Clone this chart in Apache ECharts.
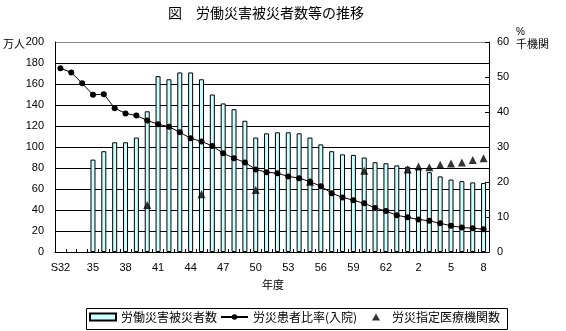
<!DOCTYPE html>
<html>
<head>
<meta charset="utf-8">
<script src="https://cdn.jsdelivr.net/npm/echarts@6/dist/echarts.min.js"></script>
<style>
  html, body { margin: 0; padding: 0; background: #fff; }
  #chart { width: 566px; height: 331px; }
</style>
</head>
<body>
<div id="chart"></div>
<script>
// 年度 (昭和32年度〜平成8年度)
const years = ['S32','33','34','35','36','37','38','39','40','41','42','43','44','45','46','47','48','49','50','51',
  '52','53','54','55','56','57','58','59','60','61','62','63','1','2','3','4','5','6','7','8'];

// 労働災害被災者数 (万人)
const victims = [null, null, null,
  88, 96, 104.5, 104.5, 109, 134, 167.5, 164.5, 171, 171, 164.5, 150, 141.5, 136, 125, 109,
  113, 114, 114, 113, 109, 102.5, 96, 93, 92.5, 90, 85.5, 84.5, 82.5, 81.3, 79.4, 76, 72, 69, 67.5, 66.3, 65.7];

// 労災患者比率(入院) (%)
const inpatientRatio = [52.5, 51.3, 48.2, 44.9, 45.1, 41.1, 39.6, 39, 37.6, 36.5, 35.8, 34.2, 32.5, 31.6, 30.3,
  28.2, 26.8, 25.6, 23.6, 22.8, 22.5, 21.6, 21.1, 20.1, 18.8, 16.8, 15.6, 14.8, 13.9, 12.6, 11.7, 10.5, 9.9,
  9.3, 8.9, 8.2, 7.5, 7.0, 6.8, 6.5];

// 労災指定医療機関数 (千機関)
const institutions = [null, null, null, null, null, null, null, null, 13.4, null, null, null, null, 16.5, null,
  null, null, null, 17.7, null, null, null, null, 20.1, null, null, null, null, 23.2, null, null, null, 23.6,
  24.4, 24.2, 24.9, 25.3, 25.6, 26.3, 26.8];

const leftTicks = { min: 0, max: 200, interval: 20 };
const rightTicks = { min: 0, max: 60, interval: 10 };

const NUM_FONT = '"Liberation Sans", Arial, sans-serif';
const JP_FONT = '"Noto Sans CJK JP", sans-serif';

const chart = echarts.init(document.getElementById('chart'), null, { renderer: 'canvas' });

const gridColors = [];
for (let v = leftTicks.min; v <= leftTicks.max; v += leftTicks.interval) {
  gridColors.push(v === leftTicks.max ? '#888888' : '#000000');
}

chart.setOption({
  animation: false,
  backgroundColor: '#ffffff',
  grid: { left: 55, right: 77, top: 42, bottom: 79, containLabel: false },
  xAxis: {
    type: 'category',
    data: years,
    boundaryGap: true,
    axisLine: { show: true, lineStyle: { color: '#000', width: 1 } },
    axisTick: { show: true, inside: true, length: 3, interval: 0, lineStyle: { color: '#000' } },
    axisLabel: { interval: 2, margin: 10, color: '#000', fontSize: 11, fontFamily: NUM_FONT },
    splitLine: { show: false }
  },
  yAxis: [
    {
      type: 'value',
      min: leftTicks.min, max: leftTicks.max, interval: leftTicks.interval,
      axisLine: { show: true, lineStyle: { color: '#000', width: 1 } },
      axisTick: { show: false },
      axisLabel: { margin: 11, color: '#000', fontSize: 11, fontFamily: NUM_FONT },
      splitLine: { show: true, lineStyle: { color: gridColors, width: 1 } }
    },
    {
      type: 'value',
      position: 'right',
      min: rightTicks.min, max: rightTicks.max, interval: rightTicks.interval,
      axisLine: { show: true, lineStyle: { color: '#000', width: 1 } },
      axisTick: { show: true, inside: true, length: 4, lineStyle: { color: '#000' } },
      axisLabel: { margin: 8, color: '#000', fontSize: 11, fontFamily: NUM_FONT },
      splitLine: { show: false }
    }
  ],
  legend: [
    {
      data: [{ name: '労働災害被災者数', icon: 'rect' }],
      left: 89, top: 311, orient: 'horizontal', padding: 0,
      itemWidth: 26, itemHeight: 7,
      textStyle: { color: '#000', fontSize: 12, fontFamily: JP_FONT }
    },
    {
      data: ['労災患者比率(入院)'],
      left: 220, top: 311, padding: 0,
      itemWidth: 27, itemHeight: 7,
      textStyle: { color: '#000', fontSize: 12, fontFamily: JP_FONT }
    },
    {
      data: [{ name: '労災指定医療機関数', icon: 'triangle' }],
      left: 372, top: 311, padding: 0,
      itemWidth: 8, itemHeight: 7,
      textStyle: { color: '#000', fontSize: 12, fontFamily: JP_FONT, padding: [0, 0, 0, 7] }
    }
  ],
  series: [
    {
      name: '労働災害被災者数',
      type: 'bar',
      yAxisIndex: 0,
      data: victims,
      barWidth: 5,
      itemStyle: { color: '#CCFFFF', borderColor: '#000', borderWidth: 1 }
    },
    {
      name: '労災患者比率(入院)',
      type: 'line',
      yAxisIndex: 1,
      data: inpatientRatio,
      symbol: 'circle',
      symbolSize: 6,
      showAllSymbol: true,
      lineStyle: { color: '#000', width: 1 },
      itemStyle: { color: '#000' },
      z: 3
    },
    {
      name: '労災指定医療機関数',
      type: 'scatter',
      yAxisIndex: 1,
      data: institutions,
      symbol: 'triangle',
      symbolSize: 8,
      itemStyle: { color: '#000' },
      z: 4
    }
  ],
  graphic: [
    {
      type: 'text', left: 168, top: 6,
      style: { text: '図　労働災害被災者数等の推移', fill: '#000', font: '14px ' + JP_FONT }
    },
    {
      type: 'text', left: 3, top: 38,
      style: { text: '万人', fill: '#000', font: '11px ' + JP_FONT }
    },
    {
      type: 'text', left: 516, top: 27,
      style: { text: '%', fill: '#000', font: '10px ' + NUM_FONT }
    },
    {
      type: 'text', left: 516, top: 38,
      style: { text: '千機関', fill: '#000', font: '11px ' + JP_FONT }
    },
    {
      type: 'text', left: 262, top: 279,
      style: { text: '年度', fill: '#000', font: '11px ' + JP_FONT }
    },
    {
      type: 'rect', left: 84, top: 306,
      shape: { width: 421, height: 21 },
      style: { fill: 'none', stroke: '#000', lineWidth: 1 },
      z: 0
    }
  ]
});
</script>
</body>
</html>
